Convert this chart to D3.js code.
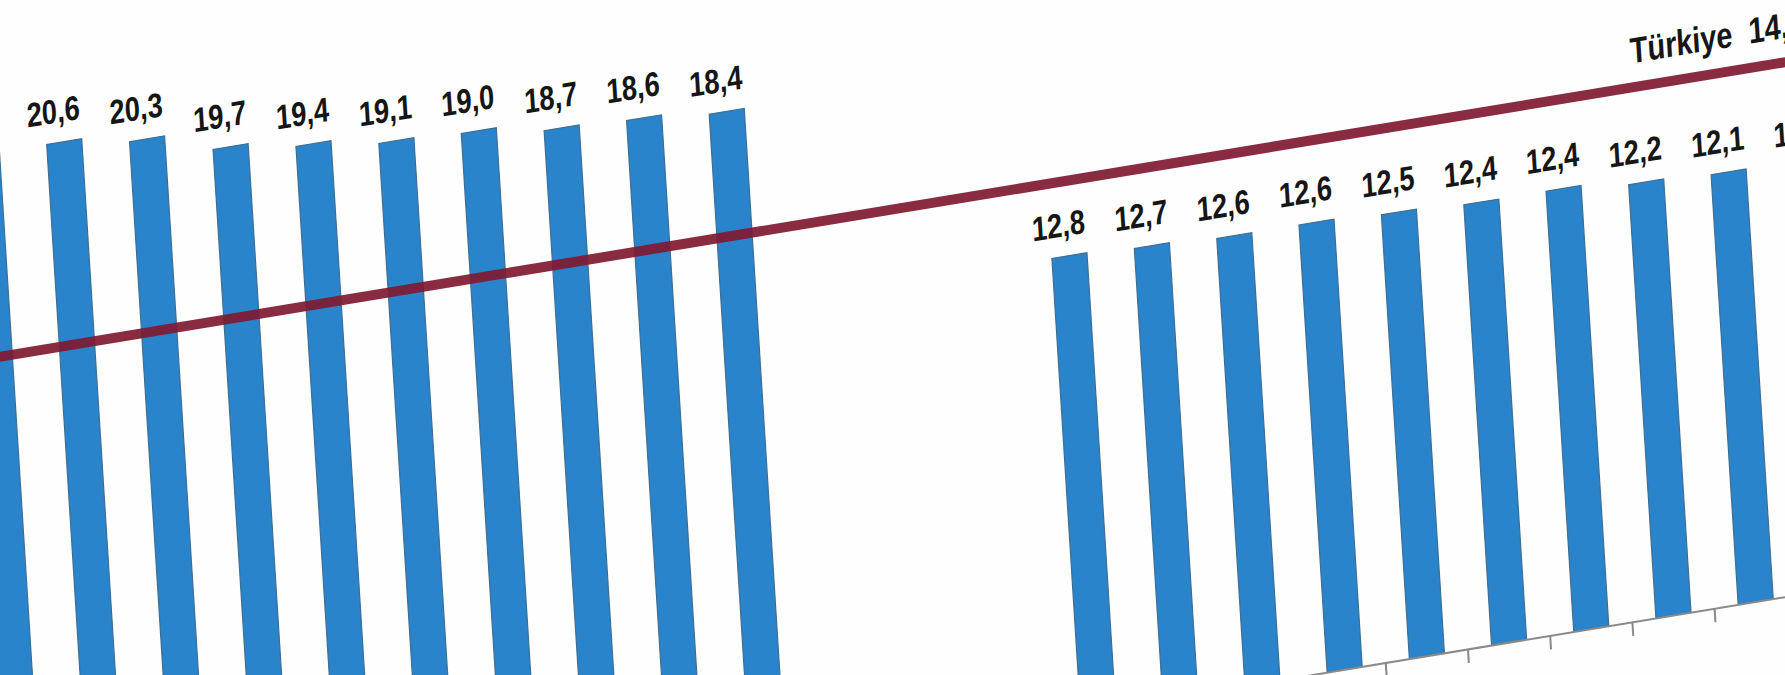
<!DOCTYPE html>
<html>
<head>
    <meta charset="utf-8">
    <title>Bar chart, Türkiye line</title>
    <script src="https://cdnjs.cloudflare.com/ajax/libs/d3/7.8.5/d3.min.js"></script>
    <style>
        body { margin: 0; background: #fefefe; }
        svg { display: block; }
        .lbl { font-family: "Liberation Sans", Arial, sans-serif; font-weight: bold; fill: #161616; }
    </style>
</head>
<body>
    <div id="vis"></div>

    <script>
        // values (first left label is cut off, last right one too)
        var leftCats = ["L1", "L2", "L3", "L4", "L5", "L6", "L7", "L8", "L9", "L10"];
        var leftValues = [20.8, 20.6, 20.3, 19.7, 19.4, 19.1, 19.0, 18.7, 18.6, 18.4];
        var rightCats = ["R1", "R2", "R3", "R4", "R5", "R6", "R7", "R8", "R9", "R10"];
        var rightValues = [12.8, 12.7, 12.6, 12.6, 12.5, 12.4, 12.4, 12.2, 12.1, 12.0];
        var turkiyeLabel = "Türkiye";
        var turkiyeValue = 14.9;

        var W = 1785, H = 675;
        var narrow = 0.8; // no narrow font installed, squeeze the labels instead

        var fmt = function(v) { return d3.format(".1f")(v).replace(".", ","); };

        var svg = d3.select("#vis").append("svg")
            .attr("width", W)
            .attr("height", H);

        svg.append("rect")
            .attr("width", W)
            .attr("height", H)
            .style("fill", "#fefefe");

        // the photo is taken at an angle, so the whole chart is sheared
        var g = svg.append("g")
            .attr("transform", "matrix(1,-0.165,0.063,1,0,0)");

        var y = d3.scaleLinear()
            .domain([0, 25])
            .range([882, 882 - 25 * 35.5]);

        var xLeft = d3.scaleBand()
            .domain(leftCats)
            .range([-68.6, 753.4])
            .paddingInner(0.574)
            .paddingOuter(0.287);

        var xRight = d3.scaleBand()
            .domain(rightCats)
            .range([1001.4, 1823.4])
            .paddingInner(0.574)
            .paddingOuter(0.287);

        function drawGroup(cats, values, x) {
            var rows = cats.map(function(c, i) { return { cat: c, v: values[i] }; });

            g.selectAll(null)
                .data(rows)
                .enter().append("rect")
                .attr("x", function(d) { return x(d.cat); })
                .attr("y", function(d) { return y(d.v); })
                .attr("width", x.bandwidth())
                .attr("height", function(d) { return y(0) - y(d.v); })
                .style("fill", "#2a84cc")
                .style("stroke", "#3d6f94")
                .style("stroke-width", 1.2);

            g.selectAll(null)
                .data(rows)
                .enter().append("text")
                .attr("class", "lbl")
                .attr("transform", function(d) {
                    return "translate(" + (x(d.cat) + x.bandwidth() / 2 - 9) + "," + (y(d.v) - 20) + ") scale(" + narrow + ",1)";
                })
                .attr("text-anchor", "middle")
                .style("font-size", "34px")
                .text(function(d) { return fmt(d.v); });
        }

        drawGroup(leftCats, leftValues, xLeft);
        drawGroup(rightCats, rightValues, xRight);

        // category axis of the right group (only the line and ticks are in frame)
        var axisR = g.append("g")
            .attr("transform", "translate(0," + y(0) + ")")
            .call(d3.axisBottom(xRight).tickSize(0).tickFormat(""));
        axisR.select(".domain").style("stroke", "#8a8a8a").style("stroke-width", 2);
        var step = xRight.step();
        axisR.selectAll(null)
            .data(rightCats.slice(1))
            .enter().append("line")
            .attr("x1", function(d) { return xRight(d) - (step - xRight.bandwidth()) / 2; })
            .attr("x2", function(d) { return xRight(d) - (step - xRight.bandwidth()) / 2; })
            .attr("y1", 0)
            .attr("y2", 14)
            .style("stroke", "#8a8a8a")
            .style("stroke-width", 2);

        // Türkiye average line
        g.append("line")
            .attr("x1", -120)
            .attr("x2", 1900)
            .attr("y1", y(turkiyeValue))
            .attr("y2", y(turkiyeValue))
            .style("stroke", "#7f1a31")
            .style("stroke-opacity", 0.92)
            .style("stroke-width", 10);

        var tk = g.append("text")
            .attr("class", "lbl")
            .attr("transform", "translate(1610," + (y(turkiyeValue) - 24) + ") scale(0.8,1)")
            .style("font-size", "36px");
        tk.append("tspan").text(turkiyeLabel);
        tk.append("tspan").attr("dx", 20).text(fmt(turkiyeValue));
    </script>
</body>
</html>
